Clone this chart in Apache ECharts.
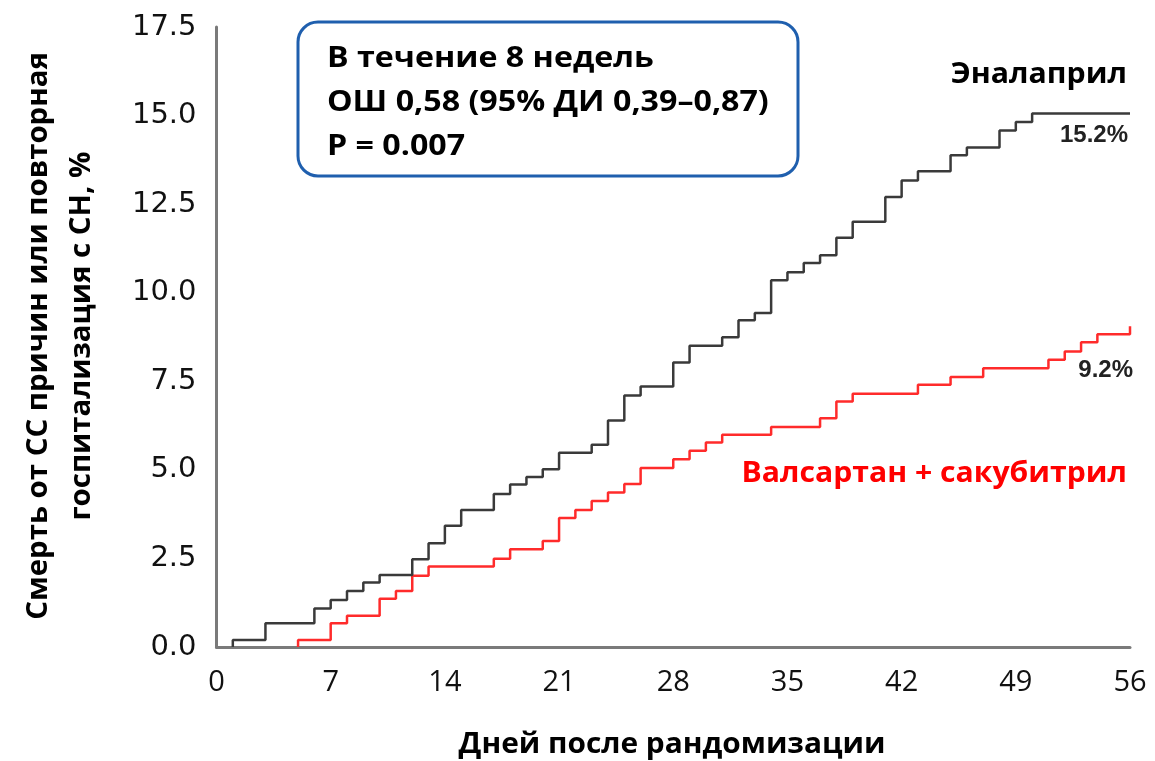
<!DOCTYPE html>
<html>
<head>
<meta charset="utf-8">
<script src="https://cdn.jsdelivr.net/npm/echarts@6/dist/echarts.min.js"></script>
<style>
html,body{margin:0;padding:0;background:#fff;}
#chart{width:1155px;height:761px;}
</style>
</head>
<body>
<div id="chart"></div>
<script>
// ---- Data ----
const xTicks = [0, 7, 14, 21, 28, 35, 42, 49, 56];
const yTicks = [0, 2.5, 5, 7.5, 10, 12.5, 15, 17.5];

const enalaprilDays = [1, 3, 6, 7, 8, 9, 10, 12, 13, 14, 15, 17, 18, 19, 20, 21, 23, 24, 25, 26, 28, 29, 31, 32, 33, 34, 35, 36, 37, 38, 39, 41, 42, 43, 45, 46, 48, 49, 50, 56];
const enalaprilRisk = [0.20, 0.67, 1.09, 1.33, 1.58, 1.82, 2.03, 2.48, 2.93, 3.42, 3.87, 4.32, 4.59, 4.80, 5.02, 5.48, 5.71, 6.39, 7.10, 7.35, 8.03, 8.50, 8.74, 9.22, 9.43, 10.35, 10.58, 10.84, 11.06, 11.55, 12.00, 12.70, 13.17, 13.43, 13.88, 14.10, 14.58, 14.82, 15.06, 15.06];

const valsartanDays = [5, 7, 8, 10, 11, 12, 13, 17, 18, 20, 21, 22, 23, 24, 25, 26, 28, 29, 30, 31, 34, 37, 38, 39, 43, 45, 47, 51, 52, 53, 54, 56];
const valsartanRisk = [0.20, 0.67, 0.88, 1.36, 1.58, 2.01, 2.27, 2.49, 2.76, 2.99, 3.64, 3.87, 4.12, 4.36, 4.60, 5.05, 5.30, 5.54, 5.77, 5.99, 6.21, 6.46, 6.93, 7.15, 7.40, 7.62, 7.87, 8.11, 8.34, 8.60, 8.83, 9.05];

const seriesNames = ['Эналаприл', 'Валсартан + сакубитрил'];
const endLabels = ['15.2%', '9.2%'];
const statLines = ['В течение 8 недель', 'ОШ 0,58 (95% ДИ 0,39–0,87)', 'P = 0.007'];
const xTitle = 'Дней после рандомизации';
const yTitleLines = ['Смерть от СС причин или повторная', 'госпитализация с СН, %'];

function toSteps(days, risk) {
  const pts = [[days[0], 0]];
  for (let i = 0; i < days.length; i++) pts.push([days[i], risk[i]]);
  return pts;
}

const chart = echarts.init(document.getElementById('chart'), null, {renderer: 'canvas'});
const boldFont = '"Open Sans", "Noto Sans", sans-serif';

chart.setOption({
  animation: false,
  backgroundColor: '#ffffff',
  grid: {left: 216.5, right: 25, top: 27, bottom: 114, containLabel: false},
  xAxis: {
    type: 'value', min: xTicks[0], max: xTicks[xTicks.length - 1], interval: 7,
    axisLine: {show: true, lineStyle: {color: '#7a7a7a', width: 3}},
    axisTick: {show: false},
    splitLine: {show: false},
    axisLabel: {color: '#111', fontSize: 29, fontFamily: '"Open Sans", sans-serif', margin: 21}
  },
  yAxis: {
    type: 'value', min: yTicks[0], max: yTicks[yTicks.length - 1], interval: 2.5,
    axisLine: {show: true, lineStyle: {color: '#7a7a7a', width: 3}},
    axisTick: {show: false},
    splitLine: {show: false},
    axisLabel: {color: '#111', fontSize: 29, fontFamily: '"DejaVu Sans", sans-serif', margin: 20,
      formatter: v => v.toFixed(1)}
  },
  series: [
    {
      name: seriesNames[0], type: 'line', step: 'end', showSymbol: false,
      data: toSteps(enalaprilDays, enalaprilRisk),
      lineStyle: {color: '#3a3a3a', width: 2.5}, z: 3
    },
    {
      name: seriesNames[1], type: 'line', step: 'end', showSymbol: false,
      data: toSteps(valsartanDays, valsartanRisk),
      lineStyle: {color: '#ff2b2b', width: 2.5}, z: 2
    }
  ],
  graphic: [
    {type: 'rect', shape: {x: 298, y: 22, width: 500, height: 154, r: 20},
      style: {fill: '#fff', stroke: '#1f5fae', lineWidth: 3}, z: 10},
    {type: 'text', x: 327, y: 37, scaleX: 1.11, z: 11,
      style: {text: statLines.join('\n'), font: 'bold 29px ' + boldFont, fill: '#000',
        textAlign: 'left', textVerticalAlign: 'top', lineHeight: 44}},
    {type: 'text', x: 1127, y: 75, scaleX: 1.08, z: 11,
      style: {text: seriesNames[0], font: 'bold 28px ' + boldFont, fill: '#000', textAlign: 'right', textVerticalAlign: 'middle'}},
    {type: 'text', x: 1128, y: 135, z: 11,
      style: {text: endLabels[0], font: 'bold 24px "Liberation Sans", Arial, sans-serif', fill: '#222', textAlign: 'right', textVerticalAlign: 'middle'}},
    {type: 'text', x: 1133, y: 370, z: 11,
      style: {text: endLabels[1], font: 'bold 24px "Liberation Sans", Arial, sans-serif', fill: '#222', textAlign: 'right', textVerticalAlign: 'middle'}},
    {type: 'text', x: 1127, y: 474, scaleX: 1.04, z: 11,
      style: {text: seriesNames[1], font: 'bold 29px ' + boldFont, fill: '#ff0000', textAlign: 'right', textVerticalAlign: 'middle'}},
    {type: 'text', x: 672, y: 745, scaleX: 1.065, z: 11,
      style: {text: xTitle, font: 'bold 28px ' + boldFont, fill: '#000', textAlign: 'center', textVerticalAlign: 'middle'}},
    {type: 'text', x: 61, y: 336, rotation: Math.PI / 2, scaleX: 1.05, z: 11,
      style: {text: yTitleLines.join('\n'), font: 'bold 28px ' + boldFont, fill: '#000', textAlign: 'center', textVerticalAlign: 'middle', lineHeight: 43}}
  ]
});
</script>
</body>
</html>
